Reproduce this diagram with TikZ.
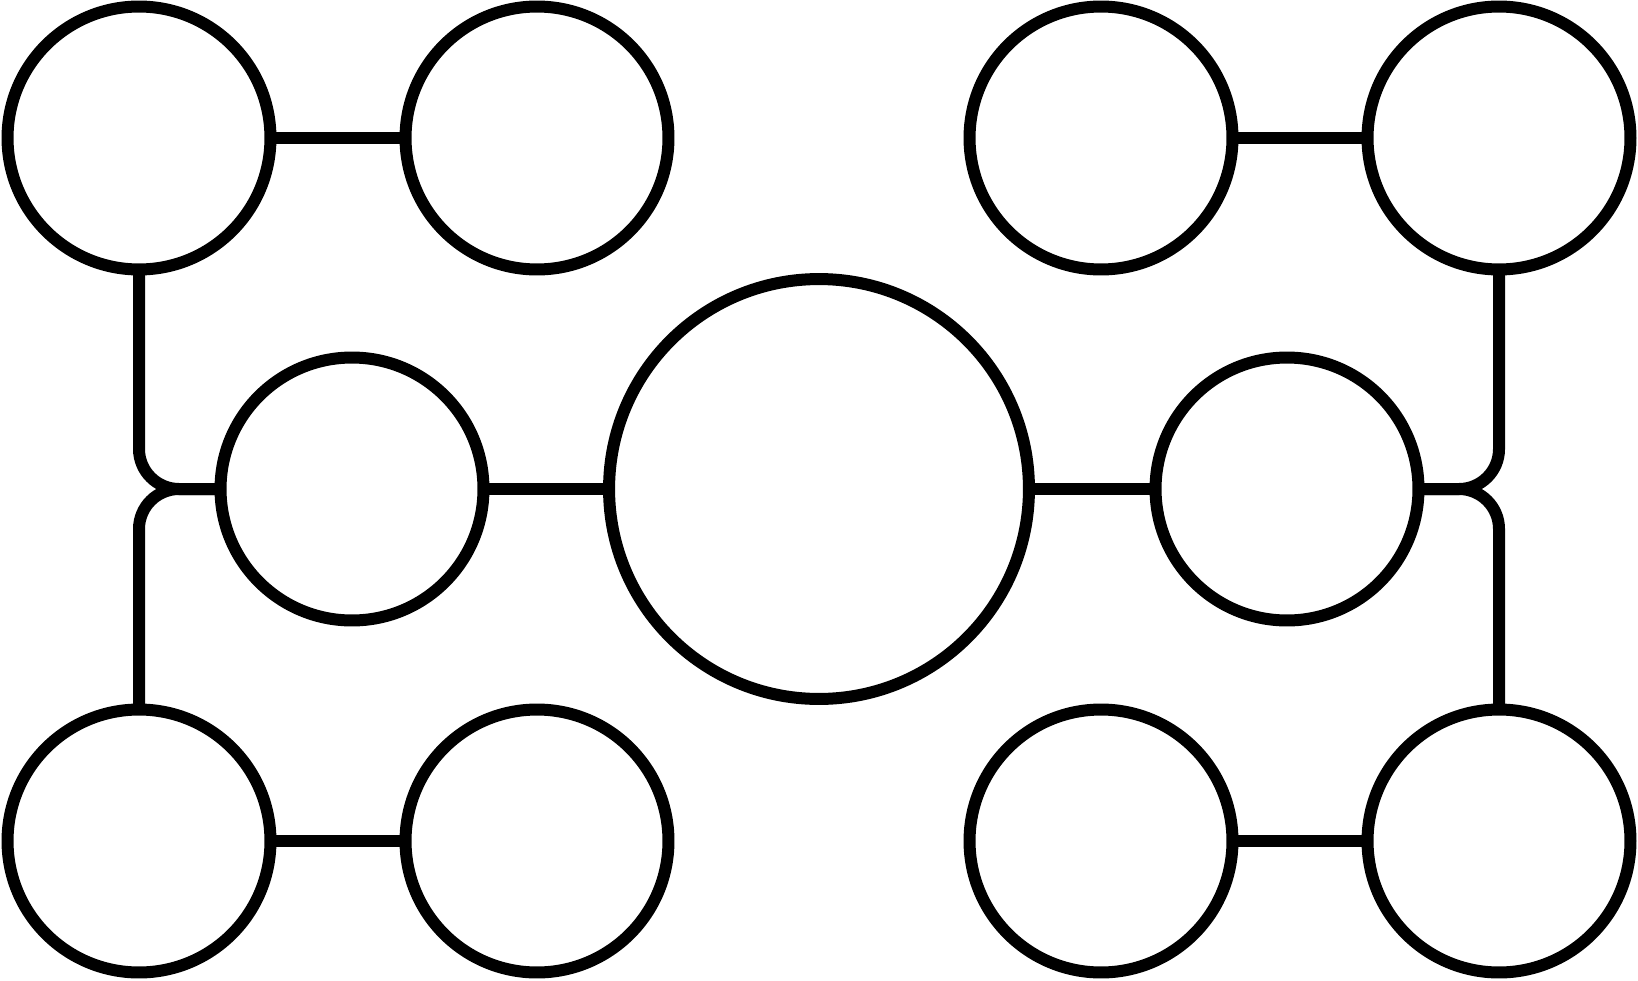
\documentclass[tikz,border=0pt]{standalone}
\usepackage{tikz}

\begin{document}
\begin{tikzpicture}[x=0.02cm, y=-0.02cm,
		bubble/.style={draw, circle, line width=0.24cm, minimum size=5.26cm, inner sep=0pt, outer sep=0pt},
		hub/.style={bubble, minimum size=8.4cm},
		link/.style={line width=0.24cm, rounded corners=0.8cm}]
	
		\useasboundingbox (0,0) rectangle (1638,980);
		
		\node[bubble] (tl) at (139,138) {};
		\node[bubble] (tli) at (537,138) {};
		\node[bubble] (tri) at (1101,138) {};
		\node[bubble] (tr) at (1499,138) {};
		
		\node[bubble] (ml) at (352,489) {};
		\node[hub] (mid) at (819,489) {};
		\node[bubble] (mr) at (1287,489) {};
		
		\node[bubble] (bl) at (139,841) {};
		\node[bubble] (bli) at (537,841) {};
		\node[bubble] (bri) at (1101,841) {};
		\node[bubble] (br) at (1499,841) {};
		
		\draw[link] (tl) -- (tli);
		\draw[link] (tri) -- (tr);
		\draw[link] (bl) -- (bli);
		\draw[link] (bri) -- (br);
		
		\draw[link] (ml) -- (mid);
		\draw[link] (mid) -- (mr);
		
		\draw[link] (tl.south) |- (ml.west);
		\draw[link] (bl.north) |- (ml.west);
		\draw[link] (tr.south) |- (mr.east);
		\draw[link] (br.north) |- (mr.east);
	
	\end{tikzpicture}
\end{document}
